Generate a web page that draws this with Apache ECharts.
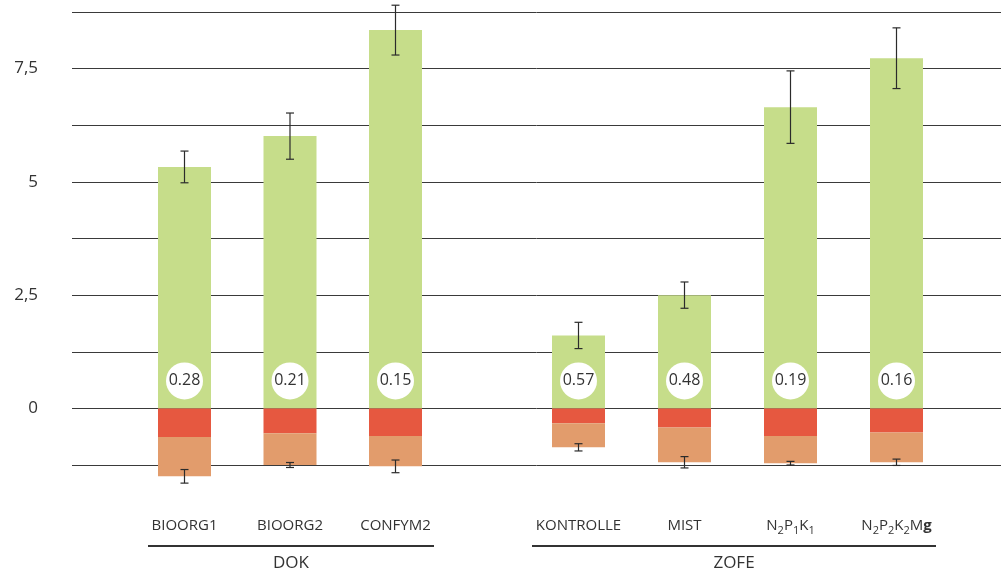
<!DOCTYPE html>
<html>
<head>
<meta charset="utf-8">
<script src="https://cdn.jsdelivr.net/npm/echarts@6/dist/echarts.min.js"></script>
<style>
html,body{margin:0;padding:0;background:#fff;}
#c{width:1001px;height:573px;}
</style>
</head>
<body>
<div id="c"></div>
<script>
// ---- data ----
const groupNames = ['DOK', 'ZOFE'];
const categoriesDOK = ['BIOORG1', 'BIOORG2', 'CONFYM2'];
const categoriesZOFE = ['KONTROLLE', 'MIST', 'N2P1K1', 'N2P2K2Mg'];
const gainDOK = [5.33, 6.01, 8.35];
const gainZOFE = [1.61, 2.50, 6.65, 7.73];
const gainErrDOK = [0.35, 0.51, 0.55];
const gainErrZOFE = [0.29, 0.29, 0.80, 0.67];
const lossRedDOK = [-0.63, -0.55, -0.61];
const lossRedZOFE = [-0.33, -0.42, -0.61, -0.53];
const lossOrangeDOK = [-0.87, -0.70, -0.67];
const lossOrangeZOFE = [-0.53, -0.77, -0.60, -0.66];
const lossErrDOK = [0.15, 0.055, 0.14];
const lossErrZOFE = [0.08, 0.125, 0.04, 0.07];
const ratioDOK = ['0.28', '0.21', '0.15'];
const ratioZOFE = ['0.57', '0.48', '0.19', '0.16'];
const yTicks = [0, 2.5, 5, 7.5];

const FONT = '"Open Sans", "Noto Sans", sans-serif';
const TXT = '#333333';
const GREEN = '#c6dd8a', RED = '#e65840', ORANGE = '#e29c6c';

function catLabel(v) {
  if (/^N\d/.test(v)) {
    let out = '';
    const m = v.match(/[A-Z][a-z]?\d?/g);
    m.forEach(tok => {
      const letters = tok.replace(/\d/g, '');
      const digit = tok.replace(/\D/g, '');
      if (letters === 'Mg') out += '{n|M}{b|g}';
      else out += '{n|' + letters + '}';
      if (digit) out += '{s|' + digit + '}';
    });
    return out;
  }
  return '{n|' + v + '}';
}
const catRich = {
  n: {fontSize: 15, color: TXT, fontFamily: FONT, lineHeight: 18},
  b: {fontSize: 15, color: TXT, fontFamily: FONT, fontWeight: 'bold', lineHeight: 18},
  s: {fontSize: 11, color: TXT, fontFamily: FONT, padding: [10, 0, 0, 0], lineHeight: 18}
};

function errSeries(idx, data) {
  return {
    type: 'custom', xAxisIndex: idx, yAxisIndex: idx, z: 10, clip: false,
    data: data,
    renderItem: function (params, api) {
      const x = api.value(0);
      const hi = api.coord([x, api.value(2)]);
      const lo = api.coord([x, api.value(1)]);
      const w = 4;
      const st = {stroke: '#2b2b2b', lineWidth: 1.2};
      return {type: 'group', children: [
        {type: 'line', shape: {x1: hi[0], y1: hi[1], x2: lo[0], y2: lo[1]}, style: st},
        {type: 'line', shape: {x1: hi[0] - w, y1: hi[1], x2: hi[0] + w, y2: hi[1]}, style: st},
        {type: 'line', shape: {x1: lo[0] - w, y1: lo[1], x2: lo[0] + w, y2: lo[1]}, style: st}
      ]};
    }
  };
}

function groupSeries(idx, gain, gainErr, red, orange, lossErr, ratio) {
  const gainE = gain.map((v, i) => [i, v - gainErr[i], v + gainErr[i]]);
  const lossE = red.map((v, i) => {
    const t = v + orange[i];
    return [i, t - lossErr[i], t + lossErr[i]];
  });
  return [
    {type: 'bar', xAxisIndex: idx, yAxisIndex: idx, stack: 's' + idx, barWidth: 53, clip: false,
     itemStyle: {color: GREEN}, data: gain,
     label: {show: true, position: 'insideBottom', distance: 9,
       formatter: p => '{c|' + ratio[p.dataIndex] + '}',
       rich: {c: {width: 37, height: 37, lineHeight: 37, borderRadius: 18.5, backgroundColor: '#fff',
         align: 'center', fontSize: 16, color: TXT, fontFamily: FONT}}}},
    {type: 'bar', xAxisIndex: idx, yAxisIndex: idx, stack: 's' + idx, barWidth: 53, clip: false,
     itemStyle: {color: RED}, data: red},
    {type: 'bar', xAxisIndex: idx, yAxisIndex: idx, stack: 's' + idx, barWidth: 53, clip: false,
     itemStyle: {color: ORANGE}, data: orange},
    errSeries(idx, gainE),
    errSeries(idx, lossE)
  ];
}

const yBase = {type: 'value', min: -1.25, max: 8.75, interval: 1.25};
const chart = echarts.init(document.getElementById('c'));
const option = {
  animation: false,
  grid: [
    {left: 72, right: 0, top: 12, bottom: 108},
    {left: 131.75, width: 316.5, top: 12, bottom: 108},
    {left: 525.5, width: 424, top: 12, bottom: 108}
  ],
  xAxis: [
    {gridIndex: 0, type: 'value', show: false, min: 0, max: 1},
    {gridIndex: 1, type: 'category', data: categoriesDOK, axisLine: {show: false}, axisTick: {show: false},
     axisLabel: {interval: 0, margin: 52, formatter: catLabel, rich: catRich}},
    {gridIndex: 2, type: 'category', data: categoriesZOFE, axisLine: {show: false}, axisTick: {show: false},
     axisLabel: {interval: 0, margin: 52, formatter: catLabel, rich: catRich}}
  ],
  yAxis: [
    Object.assign({gridIndex: 0}, yBase, {
      axisLine: {show: false}, axisTick: {show: false},
      splitLine: {show: true, lineStyle: {color: '#3a3a3a', width: 1}},
      axisLabel: {margin: 34, fontSize: 17, color: TXT, fontFamily: FONT,
        formatter: v => yTicks.some(t => Math.abs(t - v) < 1e-9) ? String(v).replace('.', ',') : ''}
    }),
    Object.assign({gridIndex: 1, show: false}, yBase),
    Object.assign({gridIndex: 2, show: false}, yBase)
  ],
  series: [].concat(
    groupSeries(1, gainDOK, gainErrDOK, lossRedDOK, lossOrangeDOK, lossErrDOK, ratioDOK),
    groupSeries(2, gainZOFE, gainErrZOFE, lossRedZOFE, lossOrangeZOFE, lossErrZOFE, ratioZOFE)
  ),
  graphic: [
    {type: 'line', shape: {x1: 148, y1: 546, x2: 434, y2: 546}, style: {stroke: '#333', lineWidth: 2}},
    {type: 'line', shape: {x1: 532, y1: 546, x2: 936, y2: 546}, style: {stroke: '#333', lineWidth: 2}},
    {type: 'text', x: 291, y: 563, style: {text: groupNames[0], fontSize: 17, fill: TXT, fontFamily: FONT, textAlign: 'center', textVerticalAlign: 'middle'}},
    {type: 'text', x: 734, y: 563, style: {text: groupNames[1], fontSize: 17, fill: TXT, fontFamily: FONT, textAlign: 'center', textVerticalAlign: 'middle'}}
  ]
};
chart.setOption(option);
</script>
</body>
</html>
